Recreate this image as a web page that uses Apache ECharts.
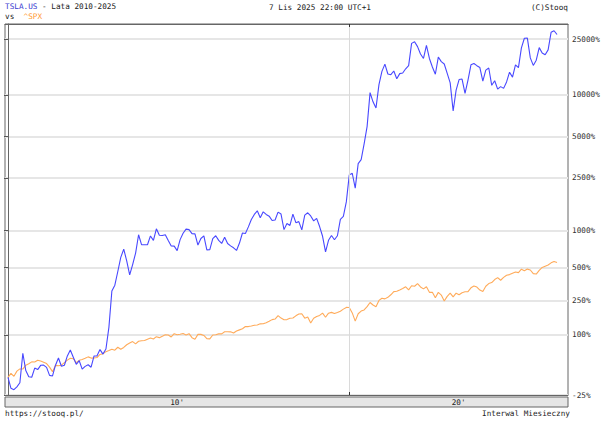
<!DOCTYPE html>
<html><head><meta charset="utf-8">
<script src="https://cdn.jsdelivr.net/npm/echarts@6/dist/echarts.min.js"></script>
<style>html,body{margin:0;padding:0;background:#fff}#c{width:605px;height:424px}</style>
</head><body><div id="c"></div>
<script>
// Monthly closes, first month = June 2010
const startYear = 2010, startMonthNum = 6;
// TSLA quoted monthly closes (before split adjustment)
const tslaClose = [
  23.83, 19.94, 19.48, 20.41, 21.84, 35.33, 26.63,
  24.10, 23.89, 27.75, 27.06, 29.02, 29.13, 28.05, 24.63, 24.39, 29.08, 32.68, 28.56,
  29.07, 33.85, 37.24, 33.09, 29.50, 31.29, 27.27, 28.52, 29.28, 28.13, 33.80, 33.87,
  37.51, 34.87, 37.89, 53.96, 97.76, 107.42, 134.28, 169.00, 193.37, 159.94, 127.28, 150.43,
  181.41, 244.81, 208.45, 207.89, 207.77, 240.06, 223.30, 269.70, 242.68, 241.70, 244.52, 222.41,
  203.60, 203.34, 188.77, 226.05, 250.80, 268.26, 266.15, 249.06, 248.40, 206.93, 230.26, 240.01,
  191.20, 191.93, 229.77, 240.76, 223.23, 212.28, 234.79, 212.01, 204.03, 197.73, 189.40, 213.69,
  251.93, 249.99, 278.30, 314.07, 341.01, 361.61, 323.47, 355.90, 341.10, 331.53, 308.85, 311.35,
  354.31, 343.06, 266.13, 293.90, 284.73, 342.95, 298.14, 303.15, 264.77, 337.32, 350.48, 332.80,
  307.02, 319.88, 279.86, 238.69, 185.16, 223.46, 241.61, 225.61, 240.87, 314.92, 329.94, 418.33,
  650.57, 667.99, 524.00, 781.88, 835.00, 1079.81, 1430.76, 498.32, 429.01, 388.04, 567.60, 705.67,
  793.53, 675.50, 667.93, 709.44, 625.22, 679.70, 687.20, 735.72, 775.48, 1114.00, 1144.76, 1056.78,
  936.72, 870.43, 1077.60, 870.76, 758.26, 672.82, 891.45, 275.61, 265.25, 227.54, 194.70, 123.18,
  173.22, 205.71, 207.46, 164.31, 203.93, 261.77, 267.43, 258.08, 250.22, 200.84, 240.08, 248.48,
  187.29, 201.88, 175.79, 183.28, 178.08, 197.88, 232.07, 214.11, 261.63, 249.85, 345.16, 403.84,
  404.60, 292.98, 259.16, 282.16, 346.46, 317.66, 308.27, 333.87, 444.72, 456.56, 429.52
];
// TSLA stock splits (month from which quotes are post-split)
const tslaSplitMonths = ['2020-08', '2022-08'];
const tslaSplitRatios = [5, 3];
// S&P 500 monthly closes
const spxClose = [
  1030.71, 1101.60, 1049.33, 1141.20, 1183.26, 1180.55, 1257.64,
  1286.12, 1327.22, 1325.83, 1363.61, 1345.20, 1320.64, 1292.28, 1218.89, 1131.42, 1253.30, 1246.96, 1257.60,
  1312.41, 1365.68, 1408.47, 1397.91, 1310.33, 1362.16, 1379.32, 1406.58, 1440.67, 1412.16, 1416.18, 1426.19,
  1498.11, 1514.68, 1569.19, 1597.57, 1630.74, 1606.28, 1685.73, 1632.97, 1681.55, 1756.54, 1805.81, 1848.36,
  1782.59, 1859.45, 1872.34, 1883.95, 1923.57, 1960.23, 1930.67, 2003.37, 1972.29, 2018.05, 2067.56, 2058.90,
  1994.99, 2104.50, 2067.89, 2085.51, 2107.39, 2063.11, 2103.84, 1972.18, 1920.03, 2079.36, 2080.41, 2043.94,
  1940.24, 1932.23, 2059.74, 2065.30, 2096.95, 2098.86, 2173.60, 2170.95, 2168.27, 2126.15, 2198.81, 2238.83,
  2278.87, 2363.64, 2362.72, 2384.20, 2411.80, 2423.41, 2470.30, 2471.65, 2519.36, 2575.26, 2647.58, 2673.61,
  2823.81, 2713.83, 2640.87, 2648.05, 2705.27, 2718.37, 2816.29, 2901.52, 2913.98, 2711.74, 2760.17, 2506.85,
  2704.10, 2784.49, 2834.40, 2945.83, 2752.06, 2941.76, 2980.38, 2926.46, 2976.74, 3037.56, 3140.98, 3230.78,
  3225.52, 2954.22, 2584.59, 2912.43, 3044.31, 3100.29, 3271.12, 3500.31, 3363.00, 3269.96, 3621.63, 3756.07,
  3714.24, 3811.15, 3972.89, 4181.17, 4204.11, 4297.50, 4395.26, 4522.68, 4307.54, 4605.38, 4567.00, 4766.18,
  4515.55, 4373.94, 4530.41, 4131.93, 4132.15, 3785.38, 4130.29, 3955.00, 3585.62, 3871.98, 4080.11, 3839.50,
  4076.60, 3970.15, 4109.31, 4169.48, 4179.83, 4450.38, 4588.96, 4507.66, 4288.05, 4193.80, 4567.80, 4769.83,
  4845.65, 5096.27, 5254.35, 5035.69, 5277.51, 5460.48, 5522.30, 5648.40, 5762.48, 5705.45, 6032.38, 5881.63,
  6040.53, 5954.50, 5611.85, 5569.06, 5911.69, 6204.95, 6339.39, 6460.26, 6688.46, 6840.20, 6728.80
];
const yTickPercents = [-25, 100, 250, 500, 1000, 2500, 5000, 10000, 25000];
const decadeLabels = ["10'", "20'"];
const decadeBoundaryMonths = ['2020-01'];
const gridMonthMarks = ['2020-01'];

// ---- build
const months = tslaClose.map((_, i) => {
  const t = (startMonthNum - 1) + i;
  const y = startYear + Math.floor(t / 12), m = t % 12 + 1;
  return y + '-' + (m < 10 ? '0' + m : m);
});
const idxOf = ym => months.indexOf(ym);
const tslaAdj = tslaClose.map((c, i) => {
  let f = 1;
  tslaSplitMonths.forEach((sm, k) => { if (months[i] < sm) f *= tslaSplitRatios[k]; });
  return c / f;
});
const tslaRel = tslaAdj.map(v => [0, v / tslaAdj[0]]).map((p, i) => [i, p[1]]);
const spxRel = spxClose.map((v, i) => [i, v / spxClose[0]]);

const xMin = -1.01, xMax = 188.7;
const bounds = [xMin].concat(decadeBoundaryMonths.map(idxOf)).concat([xMax]);
const labelPos = decadeLabels.map((_, k) => (bounds[k] + bounds[k + 1]) / 2);
const gridIdx = gridMonthMarks.map(idxOf);
const yTicks = yTickPercents.map(p => 1 + p / 100);

const FONT = 'DejaVu Sans Mono';
const FS = 7.7;

const chart = echarts.init(document.getElementById('c'), null, {renderer: 'svg', width: 605, height: 424});
chart.setOption({
  animation: false,
  backgroundColor: '#fff',
  textStyle: {fontFamily: FONT, fontSize: FS},
  title: {
    left: 5, top: 2, padding: 0,
    text: '{b|TSLA.US}{k| - Lata 2010-2025}\n{k|vs  }{o|^SPX}',
    textStyle: {
      fontFamily: FONT, fontSize: FS, fontWeight: 'normal', lineHeight: 9.5,
      rich: {
        b: {color: '#3a3ad0', fontFamily: FONT, fontSize: FS, lineHeight: 9.5},
        k: {color: '#222', fontFamily: FONT, fontSize: FS, lineHeight: 9.5},
        o: {color: '#ff9933', fontFamily: FONT, fontSize: FS, lineHeight: 9.5}
      }
    }
  },
  grid: {left: 5, top: 24, right: 37, bottom: 29, show: true, borderColor: '#666', borderWidth: 1, backgroundColor: 'transparent'},
  graphic: [
    {type: 'rect', z: 1, shape: {x: 5, y: 397, width: 563, height: 10}, style: {fill: '#e6e6e6', stroke: '#666', lineWidth: 1}},
    {type: 'text', x: 320, y: 7, style: {text: '7 Lis 2025 22:00 UTC+1', fill: '#222', font: FS + 'px ' + FONT, textAlign: 'center', textVerticalAlign: 'middle'}},
    {type: 'text', x: 568, y: 7, style: {text: '(C)Stooq', fill: '#222', font: FS + 'px ' + FONT, textAlign: 'right', textVerticalAlign: 'middle'}},
    {type: 'text', x: 5, y: 413, style: {text: 'https://stooq.pl/', fill: '#222', font: FS + 'px ' + FONT, textAlign: 'left', textVerticalAlign: 'middle'}},
    {type: 'text', x: 570, y: 413, style: {text: 'Interwal Miesieczny', fill: '#222', font: FS + 'px ' + FONT, textAlign: 'right', textVerticalAlign: 'middle'}}
  ],
  xAxis: [
    {
      type: 'value', min: xMin, max: xMax, position: 'bottom', z: 5,
      axisLine: {show: true, lineStyle: {color: '#666', width: 1}},
      axisTick: {show: true, inside: true, length: 3, customValues: gridIdx, lineStyle: {color: '#333'}},
      splitLine: {show: true, lineStyle: {color: '#dadada', width: 1}},
      axisLabel: {
        customValues: labelPos, margin: 3, color: '#222', fontFamily: FONT, fontSize: FS,
        formatter: v => {
          let best = 0;
          labelPos.forEach((p, k) => { if (Math.abs(p - v) < Math.abs(labelPos[best] - v)) best = k; });
          return decadeLabels[best];
        }
      }
    },
    {
      type: 'value', min: xMin, max: xMax, position: 'top', z: 5,
      axisLine: {show: true, lineStyle: {color: '#666', width: 1}},
      axisTick: {show: true, inside: true, length: 3, customValues: gridIdx, lineStyle: {color: '#333'}},
      splitLine: {show: false},
      axisLabel: {show: false}
    }
  ],
  yAxis: {
    type: 'log', logBase: 10, min: 0.75, max: 320.8, position: 'right',
    axisLine: {show: true, lineStyle: {color: '#666', width: 1}},
    axisTick: {show: true, inside: true, length: 4, customValues: yTicks, lineStyle: {color: '#555'}},
    splitLine: {show: true, lineStyle: {color: '#e6e6e6', width: 2}},
    axisLabel: {
      customValues: yTicks, margin: 4, color: '#333', fontFamily: FONT, fontSize: FS,
      formatter: v => {
        let best = 0;
        yTicks.forEach((t, k) => { if (Math.abs(Math.log(t) - Math.log(v)) < Math.abs(Math.log(yTicks[best]) - Math.log(v))) best = k; });
        return yTickPercents[best] + '%';
      }
    }
  },
  series: [
    {name: '^SPX', type: 'line', data: spxRel, showSymbol: false, silent: true, lineStyle: {color: '#ffab5a', width: 1.1}, itemStyle: {color: '#ffab5a'}, z: 2},
    {name: 'TSLA.US', type: 'line', data: tslaRel, showSymbol: false, silent: true, lineStyle: {color: '#4848ff', width: 1.1}, itemStyle: {color: '#4848ff'}, z: 3}
  ]
});
</script>
</body></html>
